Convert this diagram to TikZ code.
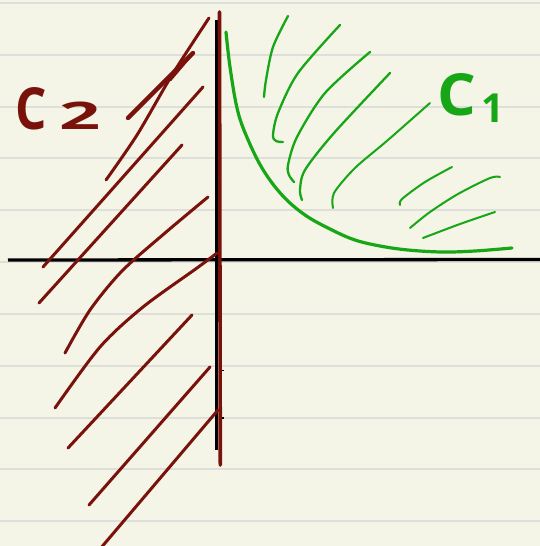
\documentclass[tikz,border=0pt]{standalone}
\usepackage{fontspec}
\setmainfont{Open Sans}
\usepackage{graphicx}
\definecolor{paper}{RGB}{244,244,231}
\definecolor{rulecol}{RGB}{222,222,218}
\definecolor{cred}{RGB}{122,18,12}
\definecolor{cgreen}{RGB}{22,166,22}
\tikzset{
 redline/.style={draw=cred, line width=3pt, line cap=round, line join=round},
 greenline/.style={draw=cgreen, line width=2.3pt, line cap=round, line join=round},
 ruleline/.style={draw=rulecol, line width=1.5pt},
 axisline/.style={draw=black, line width=3.3pt},
 lab/.style={inner sep=0pt, outer sep=0pt},
}
\begin{document}
\begin{tikzpicture}[x=1pt,y=-1pt]
\useasboundingbox (0,0) rectangle (540,546);
\fill[paper] (0,0) rectangle (540,546);
\foreach \y in {3,55,107,158,210,262,314,366,418,469,521}
  \draw[ruleline] (0,\y) -- (540,\y);
% axes
\draw[axisline] (8,260) -- (540,259.5);
\draw[axisline] (216.7,20) -- (216.7,450);
\draw[black, line width=1.6pt] (220,370.5) -- (224,370.5);
\draw[black, line width=1.6pt] (220,418) -- (224,418);
% green curve C1
\draw[greenline, line width=3.2pt] plot[smooth, tension=0.6] coordinates {(226,32) (230,67) (237,108) (246,135) (262,168) (282,195) (305,215) (332,230) (355,240) (380,246) (408,250) (442,252) (475,251) (512,248)};
% green hatching
\draw[greenline] plot[smooth] coordinates {(288,16) (273,47) (266,80) (264,97)};
\draw[greenline] plot[smooth] coordinates {(340,25) (298,73) (278,113) (273,135) (276,141) (283,142)};
\draw[greenline] plot[smooth] coordinates {(370,52) (325,93) (297,137) (288,165) (289,175) (294,182)};
\draw[greenline] plot[smooth] coordinates {(390,73) (334,133) (305,170) (300,190) (302,200)};
\draw[greenline, line width=2pt] plot[smooth] coordinates {(430,103) (388,140) (355,168) (334,193) (333,208)};
\draw[greenline, line width=2pt] plot[smooth] coordinates {(452,167) (425,182) (402,199) (400,205)};
\draw[greenline, line width=2pt] plot[smooth] coordinates {(500,177) (490,178) (458,194) (430,212) (410,228)};
\draw[greenline, line width=2pt] plot[smooth] coordinates {(495,212) (460,224) (423,238)};
% red vertical
\draw[cred, line width=3.6pt, line cap=round] (219.5,12) -- (220.3,465);
% red hatching
\draw[redline] plot[smooth] coordinates {(209,18) (172,75) (137,135) (106,180)};
\draw[redline, line width=4.4pt] (128,118) -- (193,53);
\draw[redline] (193,53) -- (170,80);
\draw[redline] (203,87) -- (43,267);
\draw[redline] (182,145) -- (39,303);
\draw[redline] plot[smooth] coordinates {(208,197) (165,233) (122,271) (90,310) (65,353)};
\draw[redline] plot[smooth] coordinates {(217,253) (197,268) (143,307) (100,347) (55,408)};
\draw[redline] (192,315) -- (68,448);
\draw[redline] (210,367) -- (89,505);
\draw[redline] (218,410) -- (100,549);
% labels
\node[lab, text=cred, anchor=base west] (c2) at (16,129)
  {\fontsize{58}{58}\selectfont\textbf{\scalebox{0.85}[1]{C}}\hspace{12pt}\fontsize{38}{38}\selectfont\textbf{\scalebox{1.9}[1]{2}}};
\node[lab, text=cgreen, anchor=base west] (c1) at (437,115)
  {\fontsize{58}{58}\selectfont\textbf{\scalebox{1.05}[1]{C}}\hspace{6pt}\raisebox{-7pt}{\fontsize{40}{40}\selectfont\textbf{1}}};
\end{tikzpicture}
\end{document}
